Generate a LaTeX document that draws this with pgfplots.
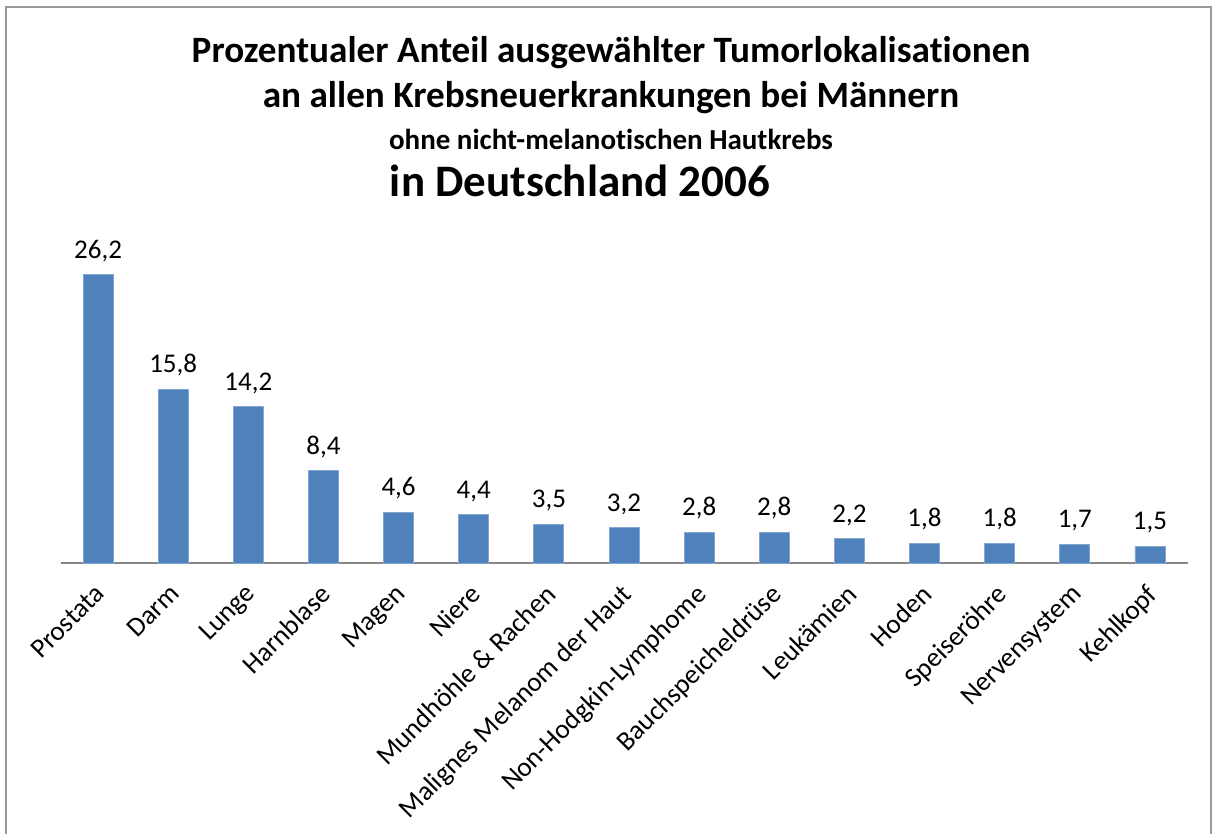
\documentclass[border=0pt]{standalone}
\usepackage{pgfplots}
\pgfplotsset{compat=1.18}
\usepackage{fontspec}
\setmainfont{Carlito}[Ligatures=NoCommon]
\definecolor{barblue}{HTML}{4F81BD}
\definecolor{axisgrey}{HTML}{868686}
\begin{document}
\begin{tikzpicture}[x=0.5pt,y=0.5pt]
\useasboundingbox (0,0) rectangle (1214,834);
\clip (0,0) rectangle (1214,834);
\draw[color=gray!80, line width=1pt] (6,-20) rectangle (1211,827);
\node[font=\bfseries\fontsize{18.6}{21}\selectfont] at (611,834-53) {Prozentualer Anteil ausgewählter Tumorlokalisationen};
\node[font=\bfseries\fontsize{18.6}{21}\selectfont] at (611,834-98) {an allen Krebsneuerkrankungen bei Männern};
\node[font=\bfseries\fontsize{14.5}{17}\selectfont] at (611,834-139) {ohne nicht-melanotischen Hautkrebs};
\node[font=\bfseries\fontsize{22.5}{26}\selectfont] at (580,834-181) {in Deutschland 2006};
\begin{axis}[
  at={(30.25pt,135.5pt)}, anchor=south west,
  scale only axis,
  width=563.5pt, height=165pt,
  xmin=-0.5, xmax=14.5, ymin=0, ymax=30,
  axis y line=none,
  axis x line*=bottom,
  x axis line style={draw=axisgrey, line width=1pt, -},
  xtick=data,
  xtick style={draw=none},
  xticklabels={Prostata,Darm,Lunge,Harnblase,Magen,Niere,Mundhöhle \& Rachen,Malignes Melanom der Haut,Non-Hodgkin-Lymphome,Bauchspeicheldrüse,Leukämien,Hoden,Speiseröhre,Nervensystem,Kehlkopf},
  xticklabel style={rotate=45, anchor=north east, font=\fontsize{13.6}{16}\selectfont, inner sep=1pt, xshift=-4.4pt, yshift=-1.2pt},
  ybar, bar width=15pt,
  nodes near coords={\pgfmathprintnumber[use comma, fixed, fixed zerofill, precision=1, assume math mode=true]{\pgfplotspointmeta}},
  every node near coord/.append style={font=\fontsize{13.5}{16}\selectfont, yshift=3pt},
  clip=false,
]
\addplot[fill=barblue, draw=barblue!70!white, line width=0.4pt] coordinates {
(0,26.2) (1,15.8) (2,14.2) (3,8.4) (4,4.6) (5,4.4) (6,3.5) (7,3.2) (8,2.8) (9,2.8) (10,2.2) (11,1.8) (12,1.8) (13,1.7) (14,1.5)};
\end{axis}
\end{tikzpicture}
\end{document}
